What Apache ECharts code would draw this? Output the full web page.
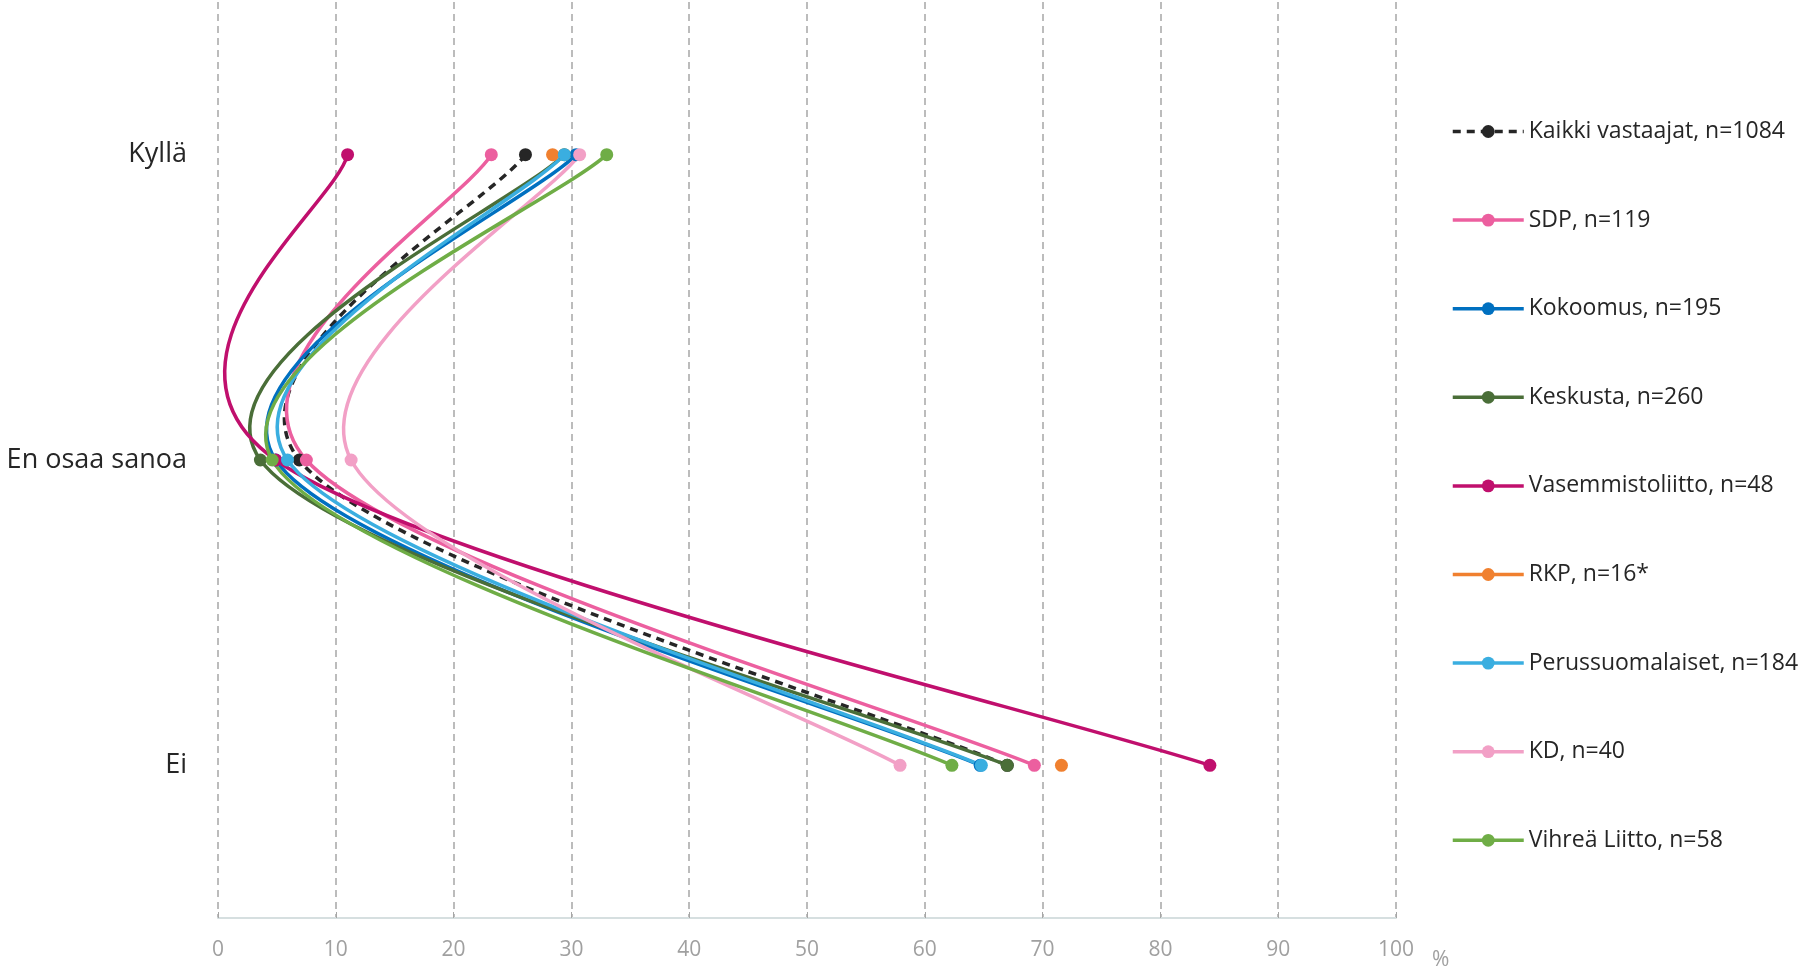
<!DOCTYPE html>
<html>
<head>
<meta charset="utf-8">
<script src="https://cdn.jsdelivr.net/npm/echarts@6/dist/echarts.min.js"></script>
<style>
html,body{margin:0;padding:0;background:#fff;}
#chart{width:1799px;height:972px;}
</style>
</head>
<body>
<div id="chart"></div>
<script>
const categories = ['Kyllä', 'En osaa sanoa', 'Ei'];
const xTicks = [0, 10, 20, 30, 40, 50, 60, 70, 80, 90, 100];

const seriesNames = ['Kaikki vastaajat, n=1084', 'SDP, n=119', 'Kokoomus, n=195', 'Keskusta, n=260',
  'Vasemmistoliitto, n=48', 'RKP, n=16*', 'Perussuomalaiset, n=184', 'KD, n=40', 'Vihreä Liitto, n=58'];

const kaikki = [26.1, 6.9, 67.0];
const sdp = [23.2, 7.5, 69.3];
const kokoomus = [30.4, 4.9, 64.7];
const keskusta = [29.4, 3.6, 67.0];
const vasemmisto = [11.0, 4.9, 84.2];
const rkp = [28.4, null, 71.6];
const perussuomalaiset = [29.4, 5.9, 64.8];
const kd = [30.7, 11.3, 57.9];
const vihrea = [33.0, 4.6, 62.3];

const seriesData = [kaikki, sdp, kokoomus, keskusta, vasemmisto, rkp, perussuomalaiset, kd, vihrea];
const colors = ['#262626', '#EC5F9F', '#0070C0', '#4A6E38', '#C00F6D', '#F0802F', '#3AAEE0', '#F2A0C6', '#6FAD46'];

const LINE_W = 3.5;
const DASH = [8, 6];

// Excel-like smoothed line (Catmull-Rom style Bezier, tension 1/6) built from axis coordinates
function makeRenderItem(arr, color, dashed) {
  return function (params, api) {
    if (params.dataIndex !== 0) return null;
    const runs = [];
    let cur = [];
    arr.forEach((v, j) => {
      if (v == null) { if (cur.length) runs.push(cur); cur = []; }
      else cur.push(api.coord([v, j]));
    });
    if (cur.length) runs.push(cur);
    let d = '';
    runs.forEach(P => {
      if (P.length < 2) return;
      const n = P.length - 1;
      d += 'M' + P[0][0] + ' ' + P[0][1];
      for (let i = 0; i < n; i++) {
        const pm = P[Math.max(i - 1, 0)], p0 = P[i], p1 = P[i + 1], p2 = P[Math.min(i + 2, n)];
        const c1 = [p0[0] + (p1[0] - pm[0]) / 6, p0[1] + (p1[1] - pm[1]) / 6];
        const c2 = [p1[0] - (p2[0] - p0[0]) / 6, p1[1] - (p2[1] - p0[1]) / 6];
        d += 'C' + c1[0] + ' ' + c1[1] + ' ' + c2[0] + ' ' + c2[1] + ' ' + p1[0] + ' ' + p1[1];
      }
    });
    if (!d) return null;
    return {
      type: 'path',
      shape: {pathData: d},
      style: {fill: 'none', stroke: color, lineWidth: LINE_W, lineDash: dashed ? DASH : null, lineCap: 'butt'}
    };
  };
}

const markerSeries = seriesNames.map((name, i) => ({
  name: name,
  type: 'line',
  data: seriesData[i],
  smooth: false,
  connectNulls: false,
  symbol: 'circle',
  symbolSize: 13,
  showSymbol: true,
  showAllSymbol: true,
  z: 3,
  lineStyle: {width: 0, opacity: 0, color: colors[i]},
  itemStyle: {color: colors[i]}
}));

const curveSeries = seriesNames.map((name, i) => ({
  name: name,
  type: 'custom',
  coordinateSystem: 'cartesian2d',
  z: 2,
  silent: true,
  data: seriesData[i].map((v, j) => [v == null ? '-' : v, j]),
  encode: {x: 0, y: 1},
  renderItem: makeRenderItem(seriesData[i], colors[i], i === 0)
}));

const chart = echarts.init(document.getElementById('chart'));
chart.setOption({
  animation: false,
  color: colors,
  grid: {left: 218, right: 403, top: 2, bottom: 54, containLabel: false},
  legend: {
    orient: 'vertical',
    left: 1446,
    top: 115,
    itemWidth: 71,
    itemHeight: 16,
    itemGap: 65.6,
    data: seriesNames.map((name, i) => ({
      name: name,
      lineStyle: {color: colors[i], width: LINE_W, opacity: 1, type: i === 0 ? DASH : 'solid'},
      itemStyle: {color: colors[i]}
    })),
    textStyle: {fontFamily: 'Open Sans', fontSize: 23, color: '#262626'}
  },
  xAxis: {
    type: 'value',
    min: 0, max: 100, interval: 10,
    name: '%',
    nameLocation: 'end',
    nameGap: 36,
    nameTextStyle: {color: '#a0a0a0', fontSize: 21, fontFamily: 'Open Sans', verticalAlign: 'top', padding: [32, 0, 0, 0]},
    axisLine: {show: true, lineStyle: {color: '#d6dfe0', width: 2}},
    axisTick: {show: true, length: 6, inside: true, lineStyle: {color: '#a6a6a6'}},
    axisLabel: {color: '#a0a0a0', fontSize: 21, fontFamily: 'Open Sans', margin: 22,
      formatter: v => xTicks.indexOf(v) >= 0 ? String(v) : ''},
    splitLine: {show: true, lineStyle: {color: '#a6a6a6', type: [7, 5], width: 1.5}}
  },
  yAxis: {
    type: 'category',
    inverse: true,
    data: categories,
    boundaryGap: true,
    axisLine: {show: false},
    axisTick: {show: false},
    splitLine: {show: false},
    axisLabel: {color: '#262626', fontSize: 27, fontFamily: 'Open Sans', margin: 31}
  },
  series: markerSeries.concat(curveSeries)
});
</script>
</body>
</html>
